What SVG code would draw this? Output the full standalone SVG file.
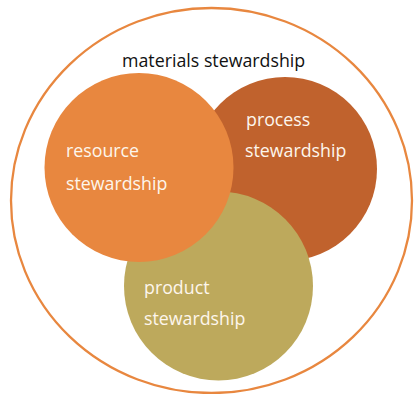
<svg xmlns="http://www.w3.org/2000/svg" width="418" height="394" viewBox="0 0 418 394">
  <style>
    .lbl { font-family: "Open Sans", "Noto Sans", sans-serif; font-size: 17.8px; fill: #fdf6ec; }
    .title { font-family: "Open Sans", "Noto Sans", sans-serif; font-size: 17.8px; fill: #111111; }
  </style>
  <rect width="418" height="394" fill="#ffffff"/>
  <!-- outer boundary: materials stewardship -->
  <g id="materials">
    <ellipse cx="211.5" cy="200.5" rx="200.5" ry="192.5" fill="none" stroke="#e8873f" stroke-width="2.3"/>
    <text class="title" x="122" y="67">materials stewardship</text>
  </g>
  <g id="process">
    <circle cx="285" cy="169" r="92" fill="#c0622d"/>
    <text class="lbl" x="246" y="126">process</text>
    <text class="lbl" x="245" y="157">stewardship</text>
  </g>
  <g id="product">
    <circle cx="218.5" cy="286" r="94.5" fill="#bda95c"/>
    <text class="lbl" x="144" y="294">product</text>
    <text class="lbl" x="144" y="325">stewardship</text>
  </g>
  <g id="resource">
    <circle cx="139" cy="167.5" r="94.5" fill="#e8873f"/>
    <text class="lbl" x="66" y="157">resource</text>
    <text class="lbl" x="66" y="190">stewardship</text>
  </g>
  <g id="connectors"/>
</svg>
